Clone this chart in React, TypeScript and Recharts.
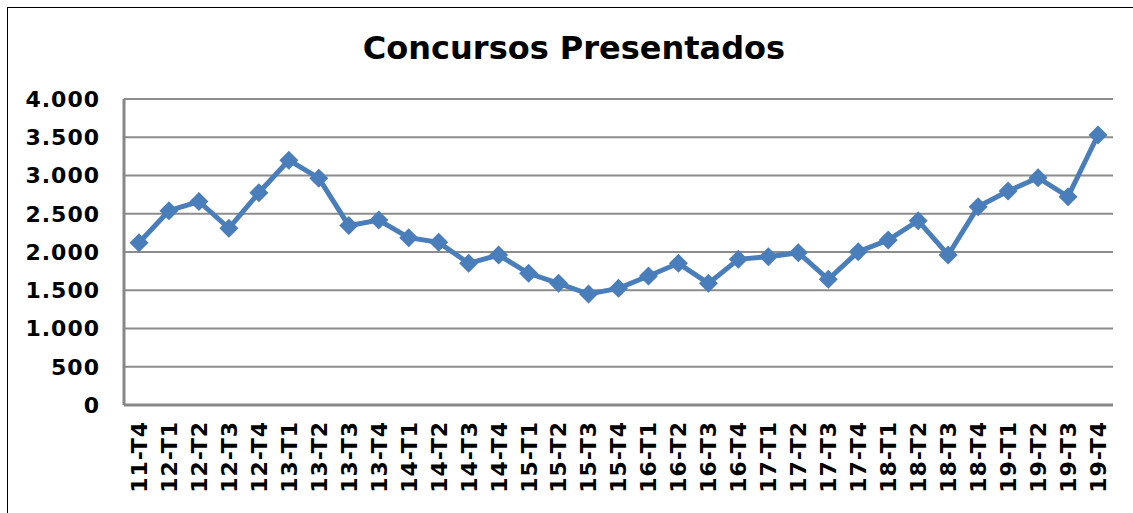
import { LineChart, Line, XAxis, YAxis, CartesianGrid } from "recharts";

const periods = [
  "11-T4", "12-T1", "12-T2", "12-T3", "12-T4", "13-T1", "13-T2", "13-T3", "13-T4",
  "14-T1", "14-T2", "14-T3", "14-T4", "15-T1", "15-T2", "15-T3", "15-T4",
  "16-T1", "16-T2", "16-T3", "16-T4", "17-T1", "17-T2", "17-T3", "17-T4",
  "18-T1", "18-T2", "18-T3", "18-T4", "19-T1", "19-T2", "19-T3", "19-T4",
];

const presentados = [
  2120, 2540, 2660, 2310, 2775, 3200, 2965, 2345, 2418,
  2187, 2126, 1852, 1961, 1721, 1590, 1451, 1525,
  1686, 1852, 1590, 1904, 1939, 1991, 1643, 2004,
  2157, 2409, 1961, 2592, 2797, 2971, 2723, 3529,
];

const yTicks = [0, 500, 1000, 1500, 2000, 2500, 3000, 3500, 4000];

const data = periods.map((p, i) => ({ periodo: p, valor: presentados[i] }));

const FONT = "'DejaVu Sans', Verdana, sans-serif";

function fmt(v: number) {
  return String(v).replace(/\B(?=(\d{3})+(?!\d))/g, ".");
}

function Diamond(props: any) {
  const { cx, cy } = props;
  if (cx == null || cy == null) return null;
  const r = 9.5;
  return (
    <polygon
      points={`${cx},${cy - r} ${cx + r},${cy} ${cx},${cy + r} ${cx - r},${cy}`}
      fill="#4A7EBB"
    />
  );
}

function PeriodTick(props: any) {
  const { x, y, payload } = props;
  return (
    <g transform={`translate(${x},${y})`}>
      <text
        transform="rotate(-90)"
        textAnchor="end"
        dy="0.36em"
        fontFamily={FONT}
        fontWeight="bold"
        fontSize={22}
        letterSpacing={1}
        fill="#000"
      >
        {payload.value}
      </text>
    </g>
  );
}

export default function App() {
  return (
    <div
      style={{
        position: "fixed",
        left: 0,
        top: 0,
        width: 1133,
        height: 513,
        overflow: "hidden",
        background: "#fff",
      }}
    >
      <div
        style={{
          position: "absolute",
          left: 7,
          top: 7,
          width: 1300,
          height: 700,
          border: "1px solid #000",
        }}
      />
      <div
        style={{
          position: "absolute",
          left: 0,
          top: 29,
          width: 1148,
          textAlign: "center",
          fontFamily: FONT,
          fontWeight: "bold",
          fontSize: 32,
          color: "#000",
        }}
      >
        Concursos Presentados
      </div>
      <div style={{ position: "absolute", left: 0, top: 0 }}>
        <LineChart
          width={1133}
          height={513}
          data={data}
          margin={{ top: 99, right: 20, bottom: 0, left: 0 }}
        >
          <CartesianGrid
            vertical={false}
            stroke="#8c8c8c"
            strokeWidth={2}
          />
          <XAxis
            dataKey="periodo"
            interval={0}
            height={108}
            padding={{ left: 15, right: 15 }}
            tickLine={false}
            tickSize={0}
            tickMargin={16}
            axisLine={{ stroke: "#878787", strokeWidth: 3 }}
            tick={<PeriodTick />}
          />
          <YAxis
            domain={[0, 4000]}
            ticks={yTicks}
            width={124}
            tickLine={false}
            tickSize={0}
            tickMargin={24}
            tickFormatter={fmt}
            axisLine={{ stroke: "#878787", strokeWidth: 3 }}
            tick={{ fontFamily: FONT, fontWeight: "bold", fontSize: 22, fill: "#000", letterSpacing: 1 }}
          />
          <Line
            type="linear"
            dataKey="valor"
            stroke="#4A7EBB"
            strokeWidth={5}
            dot={<Diamond />}
            activeDot={false}
            isAnimationActive={false}
          />
        </LineChart>
      </div>
    </div>
  );
}
